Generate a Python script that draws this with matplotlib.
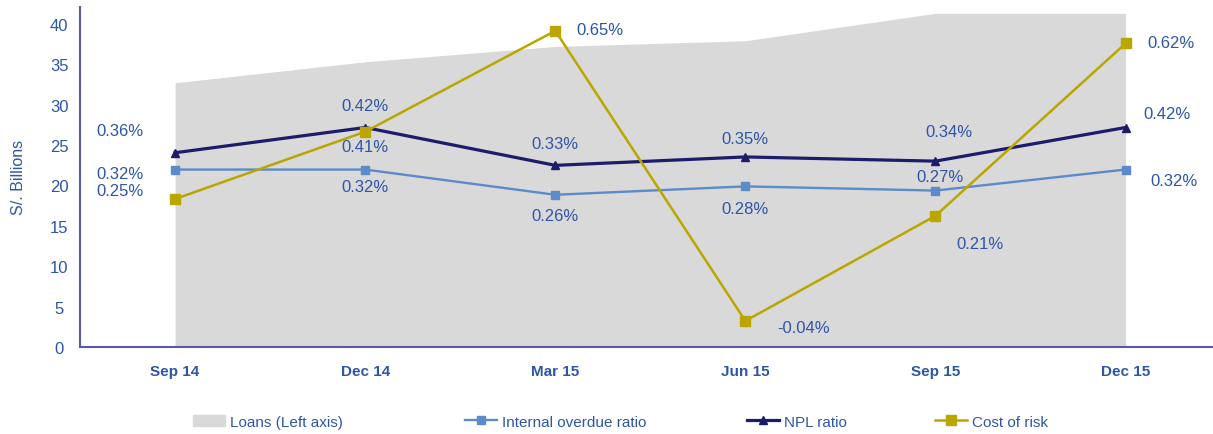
import matplotlib.pyplot as plt
from matplotlib.patches import Patch

plt.rcParams['font.family'] = ['Liberation Sans', 'DejaVu Sans']

quarters = ["Sep 14", "Dec 14", "Mar 15", "Jun 15", "Sep 15", "Dec 15"]
loans = [32.7, 35.3, 37.2, 37.9, 41.3, 41.3]
internal_overdue = [0.32, 0.32, 0.26, 0.28, 0.27, 0.32]
npl = [0.36, 0.42, 0.33, 0.35, 0.34, 0.42]
cost_of_risk = [0.25, 0.41, 0.65, -0.04, 0.21, 0.62]

txt = "#2E55A8"
gray = "#D9D9D9"
c_ior = "#5B8BC9"
c_npl = "#1C1C6B"
c_cor = "#BBA600"

fig = plt.figure(figsize=(12.13, 4.35), dpi=100)
ax = fig.add_axes([0.066, 0.2, 0.934, 0.782])
x = list(range(len(quarters)))

ax.fill_between(x, loans, 0, color=gray, lw=0)
ax.set_xlim(-0.5, 5.46)
ax.set_ylim(0, 42.1)
ax.set_yticks(range(0, 41, 5))
ax.set_xticks(x)
ax.set_xticklabels(quarters, fontweight="bold")
ax.tick_params(length=0, colors=txt, labelsize=11)
ax.tick_params(axis="y", labelsize=12, pad=15)
ax.tick_params(axis="x", pad=12)
for t in ax.get_yticklabels():
    t.set_horizontalalignment("center")
ax.set_ylabel("S/. Billions", color=txt, fontsize=11.5)
ax.yaxis.set_label_coords(-0.048, 0.5)
for s in ["top", "right"]:
    ax.spines[s].set_visible(False)
for s in ["left", "bottom"]:
    ax.spines[s].set_color("#5A5AA8")
    ax.spines[s].set_linewidth(1.5)

# ratios go on a hidden second axis
ax2 = ax.twinx()
ax2.set_ylim(-0.102, 0.707)
ax2.axis("off")
l1, = ax2.plot(x, internal_overdue, color=c_ior, lw=1.7, marker="s", ms=5.5, label="Internal overdue ratio")
l2, = ax2.plot(x, npl, color=c_npl, lw=2.3, marker="^", ms=5.5, label="NPL ratio")
l3, = ax2.plot(x, cost_of_risk, color=c_cor, lw=1.8, marker="s", ms=7, label="Cost of risk")

def lab(i, v, dx, dy, ha="center"):
    ax2.annotate(f"{v:.2f}%", (i, v), xytext=(dx, dy), textcoords="offset points",
                 ha=ha, va="center", color=txt, fontsize=12)

# Sep 14
lab(0, npl[0], -40, 16)
lab(0, internal_overdue[0], -40, -3)
lab(0, cost_of_risk[0], -40, 6)
# Dec 14
lab(1, npl[1], 0, 16)
lab(1, cost_of_risk[1], 0, -11)
lab(1, internal_overdue[1], 0, -12)
# Mar 15
lab(2, cost_of_risk[2], 15, 1, "left")
lab(2, npl[2], 0, 16)
lab(2, internal_overdue[2], 0, -15)
# Jun 15
lab(3, npl[3], 0, 13)
lab(3, internal_overdue[3], 0, -16)
lab(3, cost_of_risk[3], 23, -5, "left")
# Sep 15
lab(4, npl[4], 10, 21)
lab(4, internal_overdue[4], 3, 10)
lab(4, cost_of_risk[4], 32, -20)
# Dec 15
lab(5, cost_of_risk[5], 16, 1, "left")
lab(5, npl[5], 13, 10, "left")
lab(5, internal_overdue[5], 18, -8, "left")

# legend entries sit at uneven spots in the original, so one small legend each
handles = [Patch(color=gray, label="Loans (Left axis)"), l1, l2, l3]
starts = [193, 465, 747, 935]
for h, xs in zip(handles, starts):
    leg = fig.legend(handles=[h], loc="center left", bbox_to_anchor=(xs / 1213, 0.028),
                     frameon=False, fontsize=11, handlelength=2.1, handletextpad=0.3,
                     borderaxespad=0, borderpad=0)
    for t in leg.get_texts():
        t.set_color(txt)

fig.savefig("out.png", dpi=100)
